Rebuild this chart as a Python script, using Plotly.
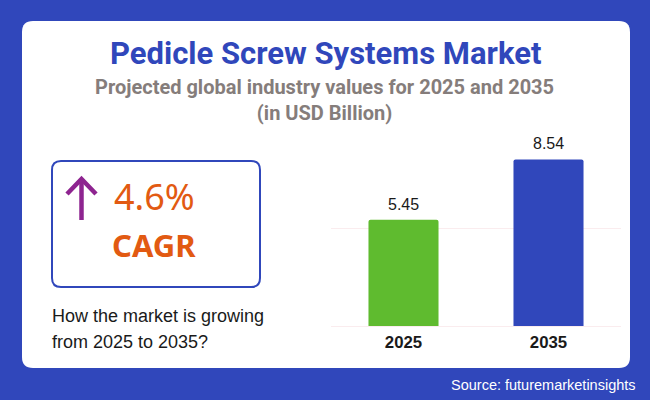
import plotly.graph_objects as go

# chart data
years = ["2025", "2035"]
values = [5.45, 8.54]
value_labels = ["5.45", "8.54"]
bar_colors = ["#5FBB2F", "#3047BB"]
y_ticks = [0, 5]

title = "Pedicle Screw Systems Market"
subtitle = "Projected global industry values for 2025 and 2035<br>(in USD Billion)"
cagr_value = "4.6%"
cagr_label = "CAGR"
question_lines = ["How the market is growing", "from 2025 to 2035?"]
source = "Source: futuremarketinsights"

W, H = 650, 400
BLUE = "#3047BB"
ORANGE = "#E25A12"
PURPLE = "#8E2490"


def px(x):
    return x / W


def py(y):
    return 1 - y / H


def rounded_rect(x0, y0, x1, y1, r):
    # rounded rectangle path in paper coords, input in pixels from top left
    cx, cy = r / W, r / H
    a, b, c, d = px(x0), px(x1), py(y0), py(y1)
    return (
        f"M {a + cx} {c} L {b - cx} {c} Q {b} {c} {b} {c - cy} "
        f"L {b} {d + cy} Q {b} {d} {b - cx} {d} "
        f"L {a + cx} {d} Q {a} {d} {a} {d + cy} "
        f"L {a} {c - cy} Q {a} {c} {a + cx} {c} Z"
    )


def label(text, x, y, size, color, family="Liberation Sans", bold=False,
          anchor="center", align="center"):
    return dict(
        text=f"<b>{text}</b>" if bold else text,
        x=px(x), y=py(y), xref="paper", yref="paper",
        xanchor=anchor, yanchor="middle", align=align, showarrow=False,
        font=dict(size=size, color=color, family=family),
    )


fig = go.Figure(go.Bar(
    x=years, y=values,
    marker=dict(color=bar_colors, cornerradius=2, line=dict(width=0)),
    width=0.483,
    hoverinfo="skip",
))

arrow = dict(type="path", xref="paper", yref="paper",
             line=dict(color=PURPLE, width=4.5))

shapes = [
    # white card behind everything
    dict(type="path", xref="paper", yref="paper", layer="below",
         path=rounded_rect(22, 21, 630, 368, 11),
         fillcolor="white", line=dict(width=0)),
    # CAGR box
    dict(type="path", xref="paper", yref="paper", layer="below",
         path=rounded_rect(52, 161, 260, 287, 9),
         fillcolor="white", line=dict(color=BLUE, width=2)),
    # up arrow
    dict(arrow, path=f"M {px(81.5)} {py(220)} L {px(81.5)} {py(180)}"),
    dict(arrow, path=f"M {px(67)} {py(194)} L {px(81.5)} {py(179)} L {px(96)} {py(194)}"),
]

annotations = [
    label(title, 325.5, 53, 31, BLUE, "Roboto", True),
    label(subtitle, 324, 100, 20, "#857D7B", "Roboto", True),
    label(cagr_value, 112, 196, 36, ORANGE, "Noto Sans", anchor="left"),
    label(cagr_label, 110, 245, 31, ORANGE, "Noto Sans", True, anchor="left"),
    label(question_lines[0], 50, 316, 18, "#1a1a1a", anchor="left"),
    label(question_lines[1], 50, 342, 18, "#1a1a1a", anchor="left"),
    label(source, 638, 385, 14.5, "white", anchor="right", align="right"),
]

# value labels sit a little higher than plotly's own outside text
# (numeric-looking categories have to be addressed by index here)
for i, (value, text) in enumerate(zip(values, value_labels)):
    annotations.append(dict(
        x=i, y=value, xref="x", yref="y", text=text,
        yanchor="bottom", yshift=5, showarrow=False,
        font=dict(size=16, color="#1a1a1a", family="Liberation Sans"),
    ))

fig.update_layout(
    width=W, height=H,
    margin=dict(l=0, r=0, t=0, b=0, autoexpand=False),
    paper_bgcolor=BLUE,
    plot_bgcolor="rgba(0,0,0,0)",
    showlegend=False,
    shapes=shapes,
    annotations=annotations,
    xaxis=dict(
        type="category",
        domain=[px(331), px(621)],
        showline=False, showgrid=False, ticks="",
        tickfont=dict(size=16.8, color="#1a1a1a", family="Liberation Sans"),
        ticklabelstandoff=4,
        tickprefix="<b>", ticksuffix="</b>",
    ),
    yaxis=dict(
        domain=[py(326), py(140.75)],
        range=[0, 9.5],
        tickvals=y_ticks, showticklabels=False,
        showgrid=True, gridcolor="#FAECEE", gridwidth=1,
        zeroline=True, zerolinecolor="#FAECEE", zerolinewidth=1,
    ),
)

# drop the browser's default page margin so the figure fills the window
fig.write_html("out.html", config={"displayModeBar": False},
               post_script="document.body.style.margin = '0';")
